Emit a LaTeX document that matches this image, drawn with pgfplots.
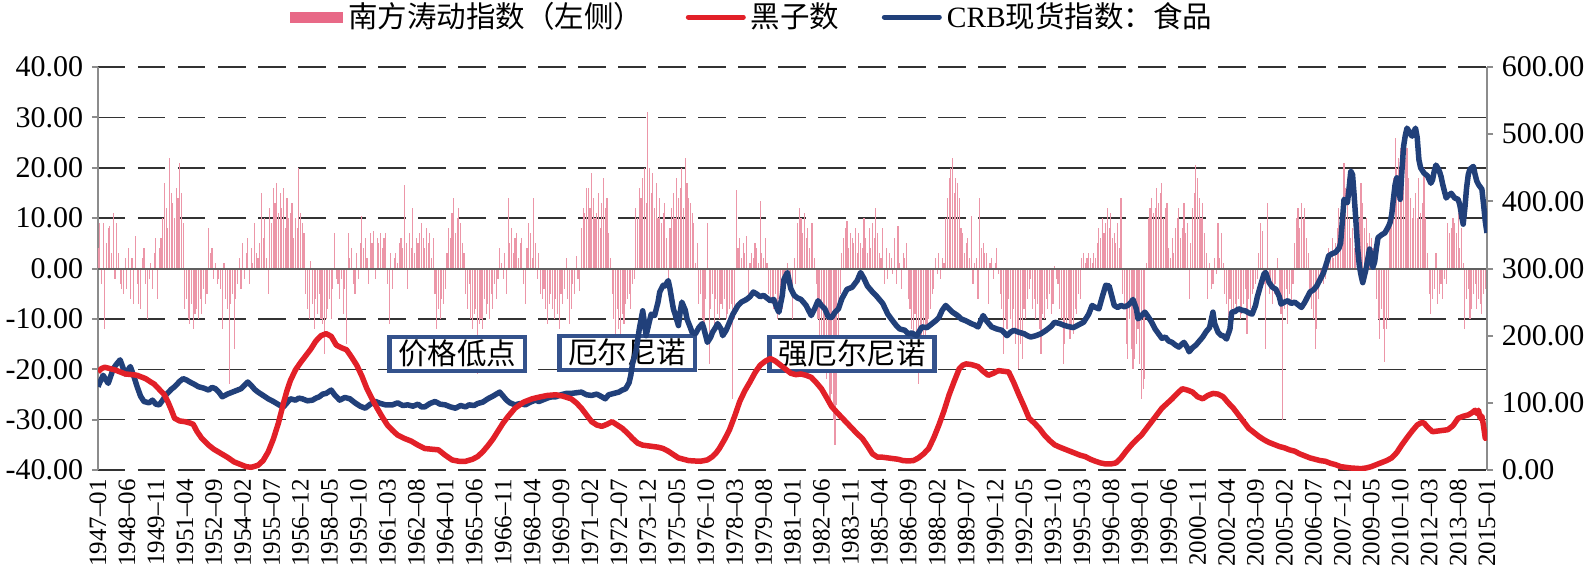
\documentclass[border=0pt]{standalone}
\usepackage{fontspec}
\setmainfont{Liberation Serif}
\newfontfamily\cjk{Noto Sans CJK SC}
\usepackage{pgfplots}
\usepackage{pgfplotstable}
\pgfplotsset{compat=1.18}
\definecolor{soipink}{RGB}{232,105,135}
\definecolor{soibar}{RGB}{236,150,168}
\definecolor{sunred}{RGB}{226,32,40}
\definecolor{crbblue}{RGB}{33,64,122}
\definecolor{boxblue}{RGB}{52,82,140}

\pgfplotstableread[row sep=\\]{
soi\\
4\\ 9\\ -3\\ 9\\ -12\\ 5\\ 8\\ 8.5\\ 3\\ 11\\ -2\\ 9\\
3\\ -3\\ -4\\ -5\\ 2\\ -4\\ 4\\ -6\\ 2\\ -7\\ 6.5\\ -3\\
-7\\ -8\\ 2\\ 4\\ -3\\ -10\\ -2\\ 1\\ -4\\ 3\\ 6\\ -6\\
4\\ 6\\ 10\\ 17\\ 12\\ 8\\ 22\\ 15\\ 13\\ 10\\ 16\\ 14\\
21\\ 15\\ 9\\ -8\\ -6\\ -10\\ -11\\ -7\\ -12\\ -9\\ -8\\ -10\\
-6\\ -9\\ -4\\ -7\\ -5\\ 8\\ 3\\ 4\\ -2\\ 1\\ -3\\ -2\\
-4\\ -12\\ 1\\ -6\\ -8\\ -23\\ -7\\ -5\\ -16\\ -6\\ -3\\ 2\\
-4\\ 5\\ -2\\ 3\\ 6\\ -3\\ 4\\ 1\\ 9\\ 3\\ 2\\ 5\\
15\\ 6\\ 10\\ 2\\ -5\\ 12\\ 9\\ 16\\ 13\\ 17\\ 11\\ 15\\
12\\ 16\\ 8\\ 14\\ 10\\ 11\\ 13\\ 6\\ 10\\ 8\\ 20\\ 11\\
9\\ 7\\ -5\\ -8\\ -10\\ 1.5\\ -7\\ -12\\ -6\\ -9\\ -5\\ -10\\
-11\\ -17\\ -10\\ -8\\ -6\\ -10\\ -4\\ 7\\ -2\\ -3\\ -6\\ -2\\
-9\\ -4\\ -15\\ 7\\ 2\\ 4\\ -3\\ -5\\ 3\\ -2\\ 5\\ 10.5\\
4\\ 6\\ 2\\ -3\\ 7\\ 5\\ 7.5\\ -2\\ 6\\ 5\\ 7\\ 4\\
6\\ 7\\ -3\\ -11\\ 3\\ -4\\ 2\\ 3\\ 1\\ 5\\ 6\\ 4\\
16.5\\ 5\\ -4\\ 7\\ 4\\ 12\\ 3\\ 6\\ 5\\ 7\\ 9\\ 6\\
4\\ 8\\ 5\\ 7\\ 2\\ 6\\ -5\\ -12\\ -8\\ -10\\ -6\\ -7\\
-4\\ 3\\ 8\\ 6\\ 11\\ 14\\ 7\\ 10\\ 12\\ 9\\ 5\\ 3\\
-5\\ -8\\ -3\\ -10\\ -12\\ -9\\ -8\\ -21\\ -11\\ -10\\ -12\\ -6\\
-9\\ -7\\ -10\\ -5\\ -8\\ -3\\ -6\\ -2\\ 4\\ 1\\ -2\\ 3\\
-5\\ 14\\ 5\\ 8\\ 3\\ 6\\ 7\\ 2\\ 5\\ 6\\ -3\\ -7\\
4\\ 9\\ 7\\ 2\\ 14\\ 5\\ -2\\ 3\\ -5\\ -6\\ -4\\ -8\\
-11\\ -7\\ -5\\ -8\\ -10\\ -6\\ -9\\ -12\\ -5\\ -7\\ -4\\ 2\\
-6\\ -11\\ -8\\ -3\\ -5\\ 2.5\\ -2\\ -4.5\\ 8\\ 12\\ 11\\ 16\\
16\\ 12\\ 19\\ 14\\ 10\\ 11\\ 15\\ 8\\ 13\\ 18\\ 12\\ 14\\
7\\ 2\\ -5\\ -10\\ -18\\ -8\\ -12\\ -13\\ -9\\ -11\\ -7\\ -6\\
-5\\ -8\\ -3\\ -2\\ 12\\ 10\\ 16\\ 14\\ 18\\ 20\\ 13\\ 31\\
20\\ 15\\ 19\\ 12\\ 17\\ 10\\ 14\\ 9\\ 11\\ 13\\ 6\\ -2\\
8\\ 12\\ 15\\ 10\\ 18\\ 14\\ 16\\ 20\\ 12\\ 22\\ 17\\ 14\\
13\\ 11\\ 9\\ 1\\ 5\\ -7\\ -5\\ -10\\ -12\\ -6\\ 9\\ -19\\
-8\\ -5\\ -12\\ -6\\ -9\\ -10\\ -7\\ -8\\ -6\\ -10\\ -9\\ -8\\
-7\\ -26\\ -10\\ 15.5\\ 4\\ 6\\ 2\\ 5\\ 3\\ 6.5\\ -5\\ 1\\
3\\ 2\\ 5\\ 4\\ 1\\ 13.5\\ 3\\ 2\\ 6\\ 1\\ -5\\ -6\\
-7\\ -8\\ -5\\ -10\\ -6\\ -4\\ -8\\ -3\\ -2\\ 1\\ -2\\ -4\\
-10\\ 2\\ -3\\ 9\\ 12\\ 10\\ 7\\ 11\\ 6\\ 8\\ 4\\ 9\\
9\\ 2\\ -3\\ -10\\ -14\\ -18\\ -20\\ -15\\ -22\\ -20\\ -27\\ -25\\
-30\\ -35\\ -27\\ -14\\ -5\\ 3\\ 6\\ 8\\ 9.5\\ 4\\ 7\\ 6\\
5\\ 8\\ 3\\ 7\\ 5\\ 4\\ 10\\ 6\\ 3\\ 8\\ 4\\ 9\\
6\\ 12\\ 7\\ 3\\ 2\\ 8\\ -3\\ 4\\ -2\\ 3\\ 2\\ -1\\
6\\ -3\\ 8.5\\ 1\\ -4\\ 3\\ 2\\ 5\\ -6\\ -8\\ -12\\ -14\\
-9\\ -13\\ -23\\ -18\\ -14\\ -16\\ -20\\ -12\\ -10\\ -8\\ -5\\ -4\\
2\\ -1\\ 3\\ -2\\ 2\\ 1\\ 10\\ 14\\ 18\\ 20\\ 22\\ 15\\
18\\ 17\\ 14\\ 8\\ 7\\ 3\\ 5\\ 6\\ 2\\ 10.5\\ -3\\ 1\\
2\\ -6\\ 14\\ 4\\ 5\\ 3\\ 3\\ -7\\ 1\\ 2\\ -2\\ 1\\
4\\ -1\\ -5\\ -8\\ -17\\ -10\\ -12\\ -6\\ -10\\ -13\\ -8\\ -15\\
-12\\ -20\\ -15\\ -18\\ -8\\ -10\\ -6\\ -4\\ -2\\ -8\\ -6\\ -10\\
-7\\ -12\\ -17\\ -9\\ -10\\ -6\\ -8\\ -5\\ -9\\ -7\\ 0.5\\ -2\\
-3\\ -8\\ -10\\ -19\\ -15\\ -12\\ -10\\ -14\\ -12\\ -13\\ -8\\ -9\\
-5\\ -6\\ 2\\ 3\\ 1\\ 2\\ 3\\ 2\\ 1\\ 3\\ 2\\ 5\\
8\\ 6\\ 10\\ 7\\ 9\\ 12\\ 8\\ 11\\ 6\\ 7\\ 5\\ 9\\
4\\ 14\\ -5\\ -8\\ -15\\ -18\\ -10\\ -16\\ -20\\ -18\\ -15\\ -12\\
-19\\ -26\\ -24\\ -22\\ 1\\ 10\\ 12\\ 14\\ 11\\ 12\\ 16\\ 13\\
15\\ 17\\ 10\\ 12\\ 13\\ 4\\ 2\\ 6\\ 3\\ 8\\ 10\\ 12\\
6\\ 8\\ 13\\ 7\\ 9\\ -6\\ 5\\ 12\\ 15\\ 20.5\\ 18\\ 14\\
10\\ 13\\ 7\\ 3\\ -6\\ 1\\ -4\\ -3\\ 2\\ -1\\ 9\\ 2\\
7\\ 1\\ -5\\ -7\\ -10\\ -6\\ -8\\ -9\\ -7\\ -8\\ -6\\ -10\\
-9\\ -7\\ -4\\ -13\\ -6\\ -8\\ -5\\ -4\\ -3\\ -2\\ 3\\ 9\\
7.5\\ -3\\ -16\\ 13\\ -5\\ -4\\ -7\\ -5\\ -3\\ 2\\ -6\\ -9\\
-30\\ -8\\ -4\\ -11\\ -5\\ -7\\ -3\\ 5\\ 10\\ 12\\ 8\\ 13\\
10\\ 12\\ 6\\ 3\\ -5\\ -8\\ -10\\ -16\\ -12\\ -6\\ -3\\ -2\\
-3\\ -2\\ 1\\ 4\\ 3\\ 6\\ 2\\ 5\\ 8\\ 12\\ 10\\ 14\\
21\\ 16\\ 18\\ 10\\ 6\\ 8\\ 4\\ 7\\ 12\\ 10\\ 17\\ 13\\
8\\ 10\\ 5\\ 7\\ 6\\ 4\\ 2\\ -6\\ -10\\ -14\\ -8\\ -12\\
-18.5\\ -12\\ -10\\ 10\\ 14\\ 18\\ 26\\ 20\\ 22\\ 24\\ 16\\ 25\\
22\\ 24\\ 18\\ 14\\ 10\\ 12\\ 15\\ 10\\ 18\\ 11\\ 13\\ 20\\
10\\ 3\\ -5\\ -9\\ -6\\ -4\\ 3\\ -7\\ -5\\ -3\\ -6\\ -2\\
-3\\ 9\\ 7\\ 8\\ 10\\ 9\\ 7\\ 11\\ 4\\ 8\\ 1\\ -12\\
-6\\ -4\\ -10\\ -8\\ -5\\ -3\\ -8\\ -6\\ -7\\ -9\\ -5\\ -4\\
-8\\
}\soitable

\pgfplotsset{
  numfmt/.style={
    /pgf/number format/fixed,
    /pgf/number format/fixed zerofill,
    /pgf/number format/precision=2,
    /pgf/number format/assume math mode=true,
  },
  common/.style={
    at={(0pt,0pt)}, anchor=south west,
    scale only axis, width=555.6pt, height=161.2pt,
    xmin=0, xmax=816,
    tick align=outside, major tick length=2.4pt,
    numfmt,
    yticklabel style={font=\fontsize{12}{14}\selectfont},
  },
}

\begin{document}
\begin{tikzpicture}
\useasboundingbox (-39.2pt,-39.6pt) rectangle (595.2pt,188pt);
% ---------- left axis: SOI bars ----------
\begin{axis}[
  common,
  ymin=-40, ymax=40,
  axis y line*=left, axis x line*=bottom,
  x axis line style={draw=none},
  y axis line style={-, draw=gray!90, line width=0.8pt},
  ytick={-40,-30,...,40},
  ytick style={draw=gray!90, line width=0.8pt},
  xtick={0,17,...,816},
  xticklabels={1947--01,1948--06,1949--11,1951--04,1952--09,1954--02,1955--07,1956--12,1958--05,1959--10,1961--03,1962--08,1964--01,1965--06,1966--11,1968--04,1969--09,1971--02,1972--07,1973--12,1975--05,1976--10,1978--03,1979--08,1981--01,1982--06,1983--11,1985--04,1986--09,1988--02,1989--07,1990--12,1992--05,1993--10,1995--03,1996--08,1998--01,1999--06,2000--11,2002--04,2003--09,2005--02,2006--07,2007--12,2009--05,2010--10,2012--03,2013--08,2015--01},
  xtick style={draw=none},
  xticklabel style={rotate=90, anchor=east, inner sep=1pt, font=\fontsize{10}{12}\selectfont},
  ymajorgrids,
  major grid style={dash pattern=on 11pt off 5pt, black!80, line width=0.6pt},
]
\addplot[ycomb, soibar, line width=0.45pt, forget plot] table[x expr=\coordindex, y=soi] {\soitable};
\draw[gray!75!black, line width=0.8pt] (axis cs:0,0) -- (axis cs:816,0);
\node[draw=boxblue, line width=1.8pt, fill=white, inner xsep=3.5pt, inner ysep=1.3pt, text height=9.5pt, text depth=1.5pt, font=\cjk\fontsize{11.8}{12}\selectfont] at (axis cs:211,-17) {价格低点};
\node[draw=boxblue, line width=1.8pt, fill=white, inner xsep=3.5pt, inner ysep=1.3pt, text height=9.5pt, text depth=1.5pt, font=\cjk\fontsize{11.8}{12}\selectfont] at (axis cs:311,-16.8) {厄尔尼诺};
\node[draw=boxblue, line width=1.8pt, fill=white, inner xsep=3.5pt, inner ysep=1.3pt, text height=9.5pt, text depth=1.5pt, font=\cjk\fontsize{11.8}{12}\selectfont] at (axis cs:443,-17) {强厄尔尼诺};
\end{axis}
% ---------- right axis: sunspots and CRB ----------
\begin{axis}[
  common,
  ymin=0, ymax=600,
  axis y line*=right, axis x line=none,
  y axis line style={-, draw=gray!90, line width=0.8pt},
  ytick={0,100,...,600},
  ytick style={draw=gray!90, line width=0.8pt},
  legend style={at={(0.472,1.124)}, anchor=center, draw=none, fill=none,
    legend columns=3, font=\fontsize{11.8}{14}\selectfont,
    /tikz/every even column/.append style={column sep=15pt}},
]
\addlegendimage{legend image code/.code={\fill[soipink] (0pt,-2pt) rectangle (21pt,2pt);}}
\addlegendentry{{\cjk 南方涛动指数（左侧）}}
\addlegendimage{legend image code/.code={\draw[sunred, line width=2pt, line cap=round] (0pt,0pt) -- (22pt,0pt);}}
\addlegendentry{{\cjk 黑子数}}
\addlegendimage{legend image code/.code={\draw[crbblue, line width=2pt, line cap=round] (0pt,0pt) -- (22pt,0pt);}}
\addlegendentry{CRB{\cjk 现货指数：食品}}

\addplot[crbblue, line width=2.2pt, line join=round, forget plot] coordinates {
(0,124)(1,130)(3,141)(6,129)(9,151)(11,158)(13,164)(16,143)(19,154)(21,140)(23,124)(25,110)(27,102)(30,100)(32,104)(34,98)(36,97)(38,104)(40,112)(43,120)(45,124)(48,132)(50,136)(52,134)(54,131)(57,127)(59,124)(62,122)(65,119)(67,123)(69,121)(71,116)(73,109)(76,113)(79,116)(82,119)(84,121)(86,126)(88,131)(90,126)(92,120)(94,116)(97,111)(100,106)(103,102)(105,99)(107,96)(109,94)(111,100)(113,106)(116,104)(118,107)(120,106)(123,103)(126,104)(128,107)(130,109)(132,113)(134,114)(137,119)(139,112)(142,104)(145,108)(148,106)(151,100)(154,95)(157,92)(160,98)(163,102)(166,99)(169,97)(173,97)(176,100)(179,96)(182,97)(185,95)(188,98)(190,94)(192,94)(195,99)(198,102)(201,98)(204,97)(207,94)(210,92)(213,96)(216,94)(218,97)(221,96)(223,99)(226,101)(229,106)(232,110)(234,113)(236,116)(238,110)(240,104)(242,100)(245,97)(248,99)(251,97)(254,101)(257,104)(259,102)(262,105)(265,108)(267,109)(269,109)(272,112)(275,114)(278,114)(281,115)(284,116)(287,112)(290,111)(293,113)(296,109)(298,106)(300,112)(303,114)(306,116)(308,119)(310,121)(312,130)(313,141)(314,158)(316,176)(318,210)(320,237)(321,220)(322,200)(324,222)(325,232)(327,230)(329,250)(330,265)(332,275)(333,274)(335,282)(336,270)(338,240)(339,232)(341,215)(342,235)(343,250)(345,238)(346,225)(348,212)(349,205)(351,203)(353,212)(355,218)(356,210)(358,190)(360,198)(361,205)(363,213)(364,218)(366,210)(367,200)(369,208)(371,220)(373,232)(376,245)(378,250)(381,254)(383,258)(385,265)(387,262)(389,258)(391,260)(393,256)(395,252)(397,254)(399,240)(400,235)(402,260)(403,284)(405,294)(407,270)(409,260)(411,256)(413,254)(416,245)(419,230)(421,240)(423,252)(425,245)(427,240)(429,228)(431,227)(433,235)(435,240)(437,255)(440,269)(443,272)(446,282)(448,294)(450,285)(452,274)(455,265)(457,260)(459,254)(461,248)(464,232)(466,225)(469,215)(471,210)(474,208)(476,203)(478,204)(481,200)(484,213)(487,212)(490,218)(492,222)(494,227)(496,238)(498,245)(500,240)(502,235)(505,230)(507,225)(510,222)(513,218)(515,216)(517,213)(520,230)(522,222)(525,213)(528,210)(531,208)(534,200)(536,205)(538,208)(541,205)(544,203)(546,200)(548,198)(551,200)(554,203)(557,208)(560,214)(562,220)(565,218)(568,215)(571,213)(573,212)(576,216)(579,220)(582,232)(584,245)(586,242)(588,240)(590,258)(592,275)(594,274)(596,255)(597,245)(599,242)(601,245)(603,243)(605,245)(607,250)(608,254)(610,240)(611,225)(613,230)(615,235)(617,228)(619,220)(621,210)(623,203)(625,196)(627,198)(629,192)(631,190)(633,186)(635,183)(637,188)(638,190)(640,182)(641,176)(643,182)(645,186)(647,192)(649,198)(651,206)(653,212)(655,235)(656,218)(658,205)(660,200)(661,200)(663,195)(665,210)(666,235)(668,236)(670,240)(672,238)(674,237)(676,234)(678,232)(680,245)(681,257)(683,275)(685,292)(686,294)(688,279)(690,272)(692,269)(694,258)(695,247)(697,250)(699,252)(701,248)(703,250)(705,246)(707,242)(709,250)(712,265)(714,268)(716,274)(718,284)(720,294)(722,310)(723,319)(725,322)(727,324)(729,330)(730,338)(731,370)(732,403)(733,400)(734,398)(735,420)(736,445)(737,440)(738,407)(739,370)(740,330)(741,304)(742,290)(743,279)(745,300)(747,329)(748,318)(749,302)(750,310)(751,330)(752,346)(754,350)(756,353)(758,362)(759,368)(760,380)(761,403)(762,425)(763,435)(764,420)(765,403)(766,445)(767,482)(768,498)(769,509)(770,505)(771,500)(772,497)(773,503)(774,509)(775,495)(776,462)(777,450)(779,442)(781,438)(783,427)(784,432)(785,445)(786,454)(787,450)(788,445)(789,437)(790,425)(792,405)(793,408)(795,412)(797,405)(799,403)(800,395)(801,380)(802,366)(803,390)(804,420)(805,440)(806,448)(808,452)(809,440)(810,430)(811,425)(813,418)(814,395)(815,370)(816,353)
};
\addplot[sunred, line width=2.2pt, line join=round, forget plot] coordinates {
(0,146)(2,151)(4,153)(7,151)(10,149)(13,146)(16,143)(20,142)(23,141)(26,138)(28,136)(31,131)(33,128)(36,120)(39,112)(41,102)(43,90)(45,77)(48,73)(51,72)(54,70)(56,68)(58,58)(61,47)(65,37)(68,31)(72,25)(76,19)(80,12)(84,8)(87,5)(90,4)(94,7)(97,14)(100,27)(103,46)(106,70)(109,100)(111,118)(113,133)(116,149)(119,160)(122,170)(125,180)(128,192)(131,200)(134,203)(137,199)(140,186)(143,182)(146,179)(149,168)(152,156)(155,140)(158,121)(161,106)(164,92)(167,79)(170,67)(173,59)(176,52)(180,47)(184,43)(188,37)(192,32)(196,31)(200,30)(204,22)(208,15)(212,13)(216,13)(220,16)(223,20)(226,27)(229,36)(232,46)(235,58)(238,70)(241,80)(245,92)(250,101)(255,106)(260,109)(264,111)(269,112)(273,110)(278,106)(281,100)(284,92)(287,82)(290,72)(293,67)(296,65)(299,68)(302,72)(305,67)(308,62)(311,55)(314,47)(317,40)(320,37)(323,36)(326,35)(329,34)(332,32)(335,28)(338,23)(341,18)(344,16)(347,14)(350,13.5)(354,13)(358,15)(361,20)(363,25)(365,32)(368,45)(371,60)(374,80)(377,102)(380,118)(383,131)(386,145)(389,156)(392,162)(395,166)(398,162)(401,156)(404,150)(407,144)(410,142)(413,143)(416,141)(419,138)(422,130)(425,121)(428,108)(431,94.5)(434,86)(437,78)(440,70)(443,62)(446,54)(449,47)(452,36)(455,24)(458,19)(461,19)(464,18)(467,17)(470,16)(473,14)(476,13.5)(479,14)(482,18)(485,24)(488,32)(491,48)(494,67)(497,88)(500,112)(503,132)(506,151)(508,156)(510,158)(513,157)(517,154)(520,147)(523,141)(526,144)(529,148)(532,147)(535,146)(538,130)(541,112)(544,95)(547,77)(550,70)(553,62)(556,52)(559,44)(562,37.5)(565,34)(568,31)(571,28)(574,25)(577,22)(580,20)(583,16)(586,13)(589,10.5)(592,9)(595,9)(598,10.5)(601,18)(604,28)(607,37)(610,45)(613,52)(616,62)(619,72)(622,82)(625,92)(628,99)(631,106)(634,114)(637,121)(640,119)(643,116)(646,109)(649,106)(652,111)(655,114)(658,113)(661,109)(664,100)(667,92)(670,82)(673,72)(676,62)(679,56)(682,50)(685,45)(688,41)(691,38)(694,35)(697,33)(700,30)(703,28)(706,24)(709,21)(712,18)(715,16)(718,14)(721,13)(724,10)(727,8)(730,5)(733,4)(736,3)(739,2.5)(742,2)(745,3)(748,5)(751,8)(754,11)(757,14)(760,18)(763,26)(766,37.5)(769,48)(772,58)(775,67)(777,70)(779,70)(781,64)(784,57)(787,58)(790,59)(793,60)(796,66)(799,77)(802,80)(805,82)(807,85)(809,89)(810,84)(811,89)(812,77)(813,80)(814,65)(815,47)(816,49)
};
\end{axis}
\end{tikzpicture}
\end{document}
